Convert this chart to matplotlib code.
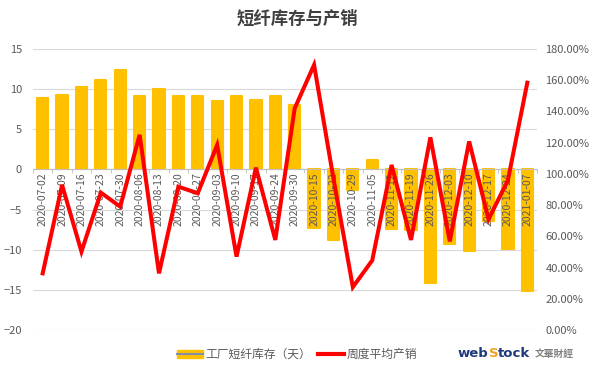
import numpy as np
import matplotlib
matplotlib.use('agg')
from matplotlib import pyplot as plt
from matplotlib.patches import Patch
from matplotlib.lines import Line2D
from matplotlib.ticker import FuncFormatter

plt.rcParams['font.family'] = ['Noto Sans CJK SC', 'DejaVu Sans']

dates = ['2020-07-02', '2020-07-09', '2020-07-16', '2020-07-23', '2020-07-30',
         '2020-08-06', '2020-08-13', '2020-08-20', '2020-08-27', '2020-09-03',
         '2020-09-10', '2020-09-17', '2020-09-24', '2020-09-30', '2020-10-15',
         '2020-10-22', '2020-10-29', '2020-11-05', '2020-11-12', '2020-11-19',
         '2020-11-26', '2020-12-03', '2020-12-10', '2020-12-17', '2020-12-24',
         '2021-01-07']
# 工厂短纤库存（天）
stock_days = [8.9, 9.3, 10.3, 11.2, 12.4, 9.2, 10.0, 9.1, 9.1, 8.5,
              9.2, 8.6, 9.2, 8.0, -7.3, -8.8, -2.6, 1.2, -7.4, -7.6,
              -14.1, -9.3, -10.1, -6.4, -9.9, -15.1]
# 周度平均产销 (%)
sales_ratio = [36.3, 92.9, 50.2, 88.0, 79.0, 125.0, 36.3, 91.8, 87.6, 118.5,
               47.0, 104.0, 57.7, 142.0, 169.8, 97.0, 27.5, 44.6, 105.7, 57.7,
               123.4, 56.8, 120.8, 70.9, 96.0, 158.4]

left_ticks = [15, 10, 5, 0, -5, -10, -15, -20]
right_ticks = [0, 20, 40, 60, 80, 100, 120, 140, 160, 180]

bar_color = '#FFC000'
text_color = '#595959'

fig = plt.figure(figsize=(5.94, 3.72), dpi=100)
ax = fig.add_axes([33 / 594, 1 - 330 / 372, 504 / 594, 281 / 372])
ax2 = ax.twinx()

x = np.arange(len(dates))

for t in left_ticks:
    ax.axhline(t, color='#D9D9D9', linewidth=0.8, zorder=0)

ax.bar(x, stock_days, width=0.58, color=bar_color, edgecolor=bar_color,
       linewidth=1.5, joinstyle='round', zorder=1)

ax2.plot(x, sales_ratio, color='#FF0000', linewidth=2.9,
         solid_joinstyle='miter')

ax.set_xlim(-0.5, len(dates) - 0.5)
ax.set_ylim(-20, 15)
ax.set_yticks(left_ticks)
ax2.set_ylim(0, 180)
ax2.set_yticks(right_ticks)
ax2.yaxis.set_major_formatter(FuncFormatter(lambda v, p: '%.2f%%' % v))

for a in (ax, ax2):
    for s in ('top', 'left', 'right'):
        a.spines[s].set_visible(False)
ax2.spines['bottom'].set_visible(False)
ax.spines['bottom'].set_position(('data', 0))
ax.spines['bottom'].set_color('#BFBFBF')
ax.set_axisbelow(False)

ax.set_xticks(x)
ax.set_xticklabels(dates, rotation=90, fontsize=7.5, color=text_color)
ax.set_xticks(np.arange(len(dates) + 1) - 0.5, minor=True)
ax.tick_params(axis='x', which='major', length=0, pad=2)
ax.tick_params(axis='x', which='minor', length=3, color='#BFBFBF')
ax.tick_params(axis='y', length=0, labelsize=8, labelcolor=text_color, pad=8)
ax2.tick_params(axis='y', length=0, labelsize=8, labelcolor=text_color, pad=6)

fig.text(0.5, 0.95, '短纤库存与产销', ha='center', va='center',
         fontsize=12.5, fontweight='bold', color='#404040')

handles = [(Patch(facecolor=bar_color, edgecolor=bar_color),
            Line2D([], [], color='#7F8FA6', linewidth=1.5)),
           Line2D([], [], color='#FF0000', linewidth=3)]
fig.legend(handles, ['工厂短纤库存（天）', '周度平均产销'],
           loc='center', bbox_to_anchor=(0.5, 0.047), ncol=2, frameon=False,
           fontsize=8.5, handlelength=2.2, handletextpad=0.2, columnspacing=0.6,
           labelcolor=text_color)

# logo: chain the pieces one after another
renderer = fig.canvas.get_renderer()
logo_parts = [('web', '#1F3A7A', 9.5, 'DejaVu Sans', 0),
              ('S', '#F0A020', 9.5, 'DejaVu Sans', 0),
              ('tock', '#1F3A7A', 9.5, 'DejaVu Sans', 4),
              ('文華財經', '#808080', 7, None, 0)]
xpos = 458
for txt, col, fs, fam, gap in logo_parts:
    kw = dict(ha='left', va='center', fontsize=fs, fontweight='bold', color=col)
    if fam:
        kw['family'] = fam
    t = fig.text(xpos / 594, 0.05, txt, **kw)
    bb = t.get_window_extent(renderer=renderer)
    xpos = bb.x1 + gap

plt.savefig('out.png', dpi=100)
plt.close()
